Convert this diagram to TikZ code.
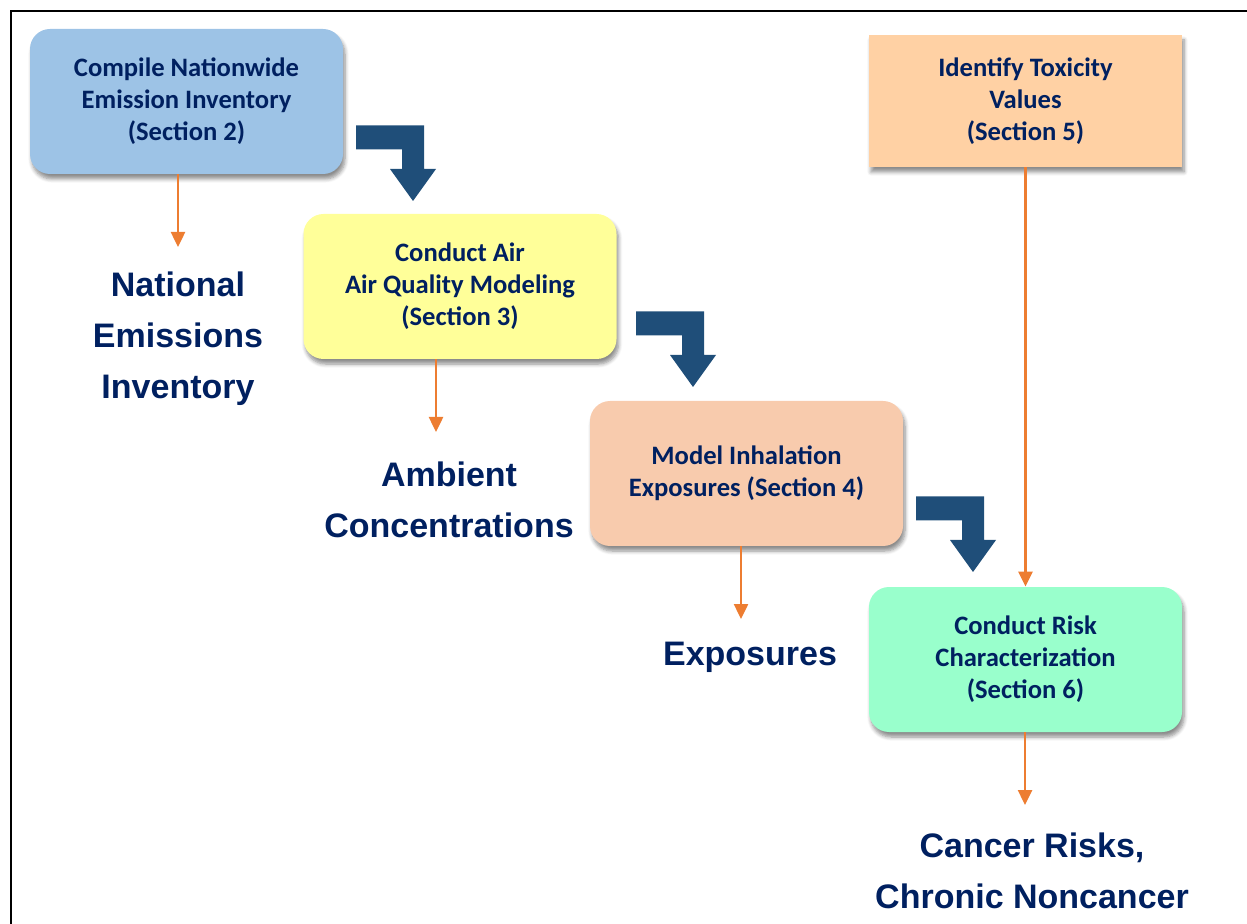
\documentclass[tikz,border=0pt]{standalone}
\usepackage{fontspec}
\setmainfont{Carlito}
\newfontfamily\arialfont{Liberation Sans}
\usetikzlibrary{arrows.meta,shadows.blur}
\definecolor{navy}{HTML}{002060}
\definecolor{stepblue}{HTML}{9DC3E6}
\definecolor{stepyellow}{HTML}{FFFF99}
\definecolor{steppeach}{HTML}{F8CBAD}
\definecolor{steptan}{HTML}{FFD1A4}
\definecolor{stepgreen}{HTML}{99FFCC}
\definecolor{bendblue}{HTML}{1F4E79}
\definecolor{outorange}{HTML}{ED7D31}

\begin{document}
\begin{tikzpicture}
  [x=0.5pt,y=-0.5pt,
   box/.style={rectangle,rounded corners=10pt,minimum width=156.5pt,minimum height=72.5pt,
     align=center,text=navy,font=\bfseries\fontsize{13.3}{16}\selectfont,
     blur shadow={shadow xshift=1pt,shadow yshift=-2.5pt,shadow blur steps=6,shadow opacity=45}},
   result/.style={align=center,text=navy,font=\arialfont\bfseries\fontsize{17}{25.5}\selectfont},
   outarr/.style={draw=outorange,line width=1.25pt,-{Triangle[width=7pt,length=7.5pt]}}]
  \useasboundingbox (0,0) rectangle (1247,924);
  \draw[line width=1pt] (11,924) -- (11,11) -- (1247,11);

  % steps
  \node[box,fill=stepblue] (emis) at (186.5,101.5) {Compile Nationwide\\Emission Inventory\\(Section 2)};
  \node[box,fill=stepyellow] (airq) at (460,286.5) {Conduct Air\\Air Quality Modeling\\(Section 3)};
  \node[box,fill=steppeach] (inhal) at (746.5,473.5) {Model Inhalation\\Exposures (Section 4)};
  \node[box,sharp corners,fill=steptan,minimum height=66pt] (tox) at (1025.5,101) {Identify Toxicity\\Values\\(Section 5)};
  \node[box,fill=stepgreen] (risk) at (1025.5,659.5) {Conduct Risk\\Characterization\\(Section 6)};

  % results
  \node[result] (natl) at (178,339) {National\\Emissions\\Inventory};
  \node[result] (amb) at (449,500) {Ambient\\Concentrations};
  \node[result] (expo) at (750,657) {Exposures};
  \node[result] (canc) at (1032,871) {Cancer Risks,\\Chronic Noncancer};

  \coordinate (natlend) at (178,247);
  \coordinate (ambend) at (436,432);
  \coordinate (expoend) at (741,619);
  \coordinate (cancend) at (1025,805);

  \draw[outarr] (emis.south -| natlend) -- (natlend);
  \draw[outarr] (airq.south -| ambend) -- (ambend);
  \draw[outarr] (inhal.south -| expoend) -- (expoend);
  \draw[outarr] (risk.south -| cancend) -- (cancend);
  \draw[outarr] (tox.south) -- (risk.north);

  % bent arrows between steps
  \foreach \x/\y in {356/125.5,636/311.5,916/496.5}
    \fill[bendblue] (\x,\y) -- ++(68,0) -- ++(0,43.5) -- ++(12,0) -- ++(-23,32)
      -- ++(-23,-32) -- ++(12,0) -- ++(0,-19.5) -- ++(-46,0) -- cycle;

\end{tikzpicture}
\end{document}
